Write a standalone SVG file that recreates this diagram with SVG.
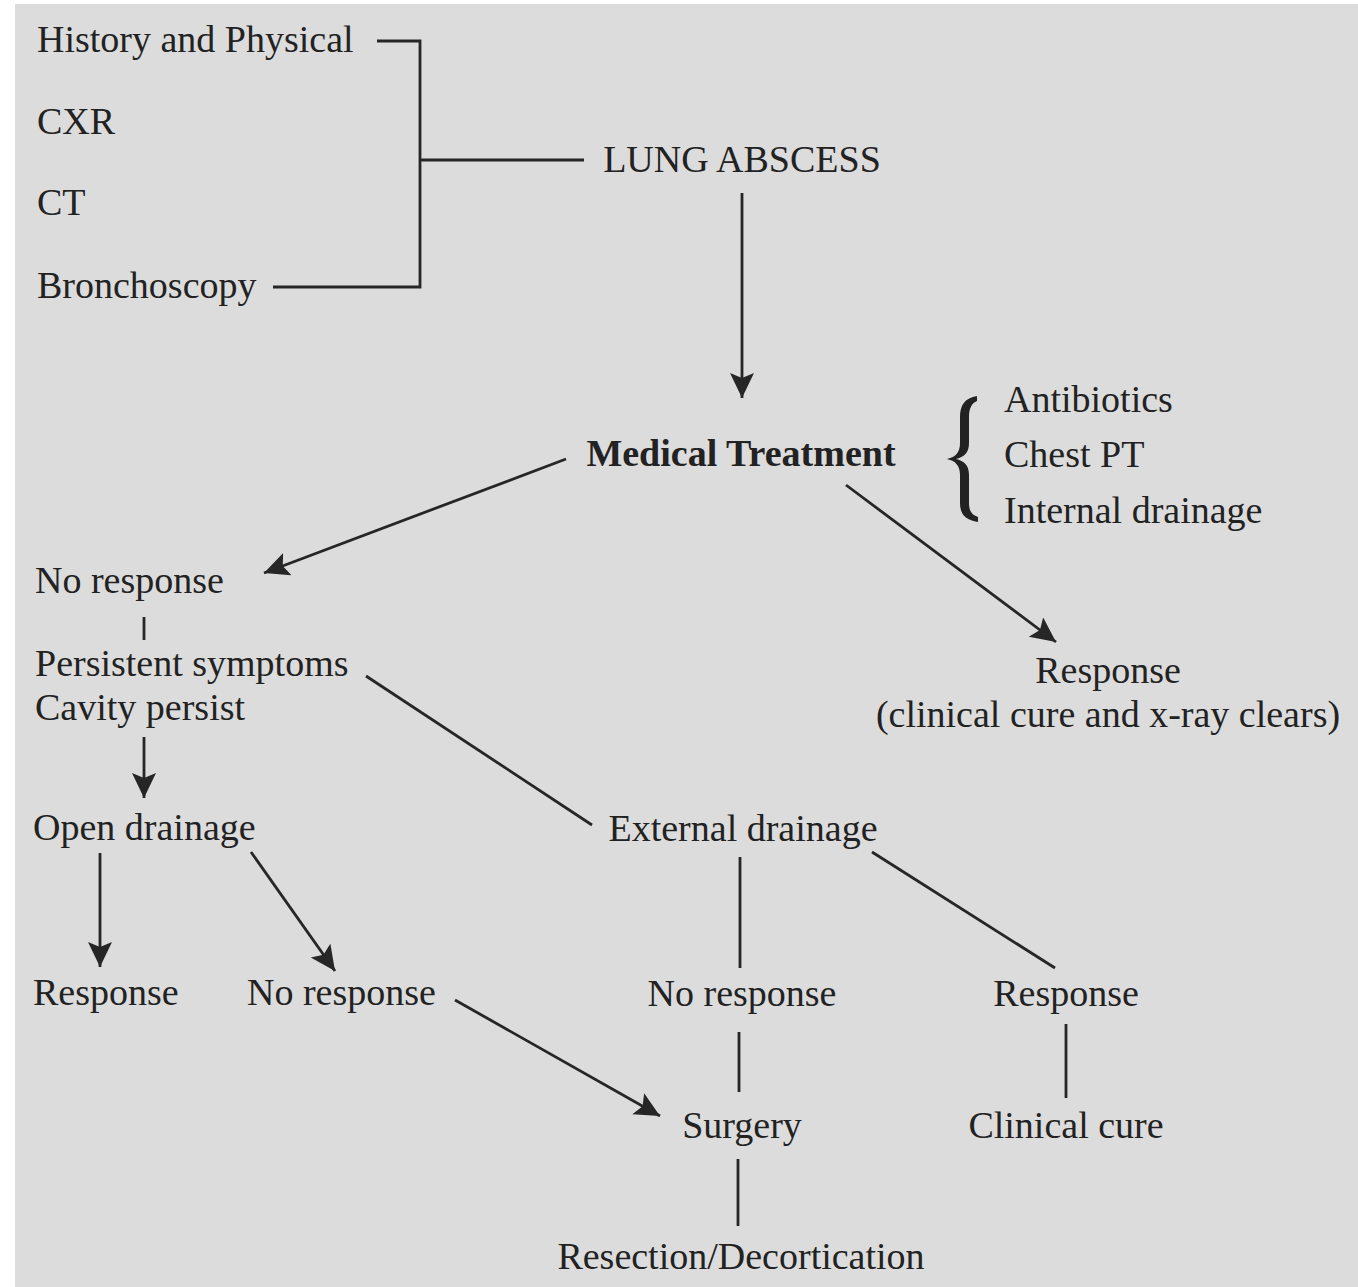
<svg xmlns="http://www.w3.org/2000/svg" width="1358" height="1287" viewBox="0 0 1358 1287">
<style>
  text { font-family: "Liberation Serif", "Times New Roman", serif; font-size: 38px; fill: #222222; }
  .b { font-weight: bold; }
  .m { text-anchor: middle; }
  .ln { stroke: #262626; stroke-width: 2.8; fill: none; }
  .ar { stroke: #262626; stroke-width: 2.8; fill: none; marker-end: url(#ah); }
</style>
<defs>
  <marker id="ah" markerUnits="userSpaceOnUse" markerWidth="28" markerHeight="26" refX="25" refY="12" orient="auto">
    <path d="M0,0 L25,12 L0,24 L5,12 Z" fill="#262626"/>
  </marker>
</defs>
<rect x="0" y="0" width="1358" height="1287" fill="#ffffff"/>
<rect x="15" y="4" width="1343" height="1283" fill="#dcdcdc"/>

<g id="connectors">
  <polyline class="ln" points="377,41 420,41 420,287 273,287"/>
  <line class="ln" x1="420" y1="160" x2="584" y2="160"/>
  <line class="ar" x1="742" y1="193" x2="742" y2="398"/>
  <line class="ar" x1="566" y1="459" x2="264" y2="573"/>
  <line class="ar" x1="846" y1="485" x2="1056" y2="642"/>
  <line class="ln" x1="144" y1="617" x2="144" y2="640"/>
  <line class="ar" x1="144" y1="737" x2="144" y2="798"/>
  <line class="ln" x1="366" y1="676" x2="592" y2="825"/>
  <line class="ar" x1="100" y1="853" x2="100" y2="967"/>
  <line class="ar" x1="251" y1="852" x2="335" y2="971"/>
  <line class="ar" x1="455" y1="1000" x2="660" y2="1116"/>
  <line class="ln" x1="740" y1="857" x2="740" y2="968"/>
  <line class="ln" x1="872" y1="852" x2="1055" y2="968"/>
  <line class="ln" x1="739" y1="1032" x2="739" y2="1092"/>
  <line class="ln" x1="1066" y1="1024" x2="1066" y2="1098"/>
  <line class="ln" x1="738" y1="1159" x2="738" y2="1226"/>
</g>

<g id="brace">
  <path d="M977,396 C965,398 960,405 960,417 L960,443 C960,452 956,457 947,459 C956,461 960,466 960,475 L960,503 C960,515 966,520 978,522 L978,517 C972,515 969,511 969,503 L969,475 C969,465 964,461 956,459 C964,457 969,453 969,443 L969,417 C969,408 972,403 977,401 Z" fill="#222222"/>
</g>

<g id="n-hp"><text x="37" y="52">History and Physical</text></g>
<g id="n-cxr"><text x="37" y="134">CXR</text></g>
<g id="n-ct"><text x="37" y="215">CT</text></g>
<g id="n-bronch"><text x="37" y="298">Bronchoscopy</text></g>
<g id="n-lung"><text x="742" y="172" class="m">LUNG ABSCESS</text></g>
<g id="n-med"><text x="741" y="466" class="m b">Medical Treatment</text></g>
<g id="n-list">
  <text x="1004" y="412">Antibiotics</text>
  <text x="1004" y="467">Chest PT</text>
  <text x="1004" y="523">Internal drainage</text>
</g>
<g id="n-noresp1"><text x="35" y="593">No response</text></g>
<g id="n-persist">
  <text x="35" y="676">Persistent symptoms</text>
  <text x="35" y="720">Cavity persist</text>
</g>
<g id="n-resp1">
  <text x="1108" y="683" class="m">Response</text>
  <text x="1108" y="727" class="m">(clinical cure and x-ray clears)</text>
</g>
<g id="n-open"><text x="33" y="840">Open drainage</text></g>
<g id="n-ext"><text x="743" y="841" class="m">External drainage</text></g>
<g id="n-resp2"><text x="33" y="1005">Response</text></g>
<g id="n-noresp2"><text x="247" y="1005">No response</text></g>
<g id="n-noresp3"><text x="742" y="1006" class="m">No response</text></g>
<g id="n-resp3"><text x="1066" y="1006" class="m">Response</text></g>
<g id="n-surgery"><text x="742" y="1138" class="m">Surgery</text></g>
<g id="n-cure"><text x="1066" y="1138" class="m">Clinical cure</text></g>
<g id="n-resect"><text x="741" y="1269" class="m">Resection/Decortication</text></g>
</svg>
